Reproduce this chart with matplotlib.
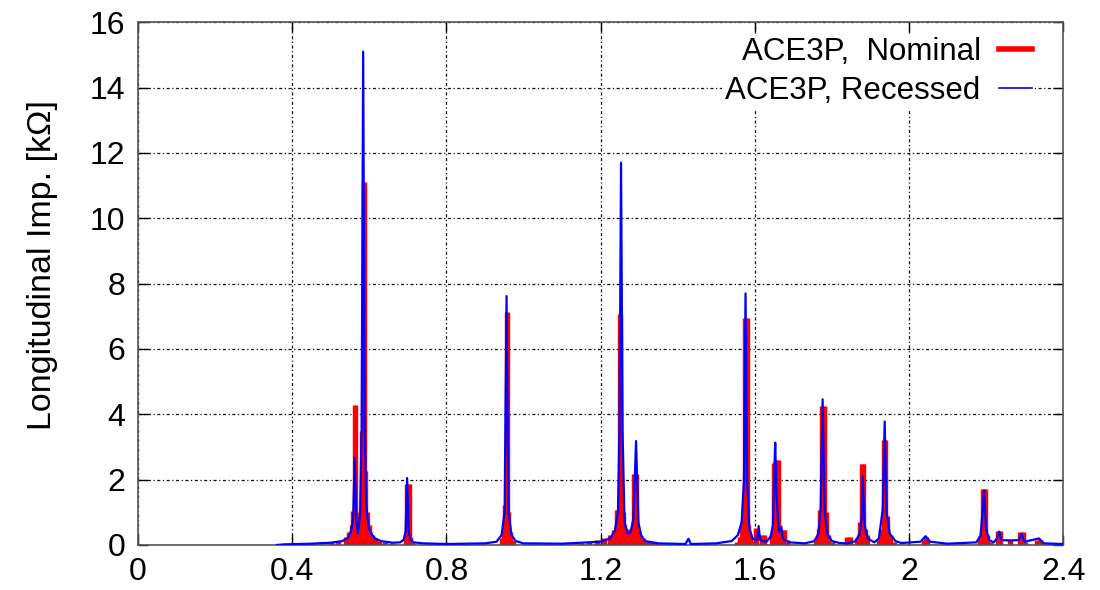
import matplotlib
matplotlib.use("Agg")
import matplotlib.pyplot as plt
from matplotlib.lines import Line2D

plt.rcParams['font.family'] = ['Liberation Sans', 'DejaVu Sans']

# nominal geometry, sampled impedance (drawn as impulses)
nominal_freq = [0.40, 0.45, 0.50, 0.52, 0.54, 0.548, 0.554, 0.558, 0.563, 0.567, 0.571, 0.575,
                0.580, 0.585, 0.590, 0.594, 0.598, 0.603, 0.608, 0.615, 0.625, 0.64, 0.66,
                0.694, 0.698, 0.702, 0.706, 0.712,
                0.945, 0.950, 0.953, 0.957, 0.961, 0.965, 0.972,
                1.13, 1.15, 1.17, 1.19, 1.21, 1.225, 1.235, 1.242, 1.246, 1.251, 1.254, 1.258, 1.262,
                1.268, 1.275, 1.282, 1.287, 1.291, 1.296, 1.302, 1.31, 1.32, 1.33, 1.345,
                1.555, 1.562, 1.567, 1.571, 1.575, 1.579, 1.583, 1.588, 1.595,
                1.603, 1.618, 1.625,
                1.644, 1.649, 1.654, 1.659, 1.664, 1.672, 1.677, 1.684,
                1.760, 1.766, 1.770, 1.774, 1.779, 1.784, 1.79, 1.80,
                1.840, 1.846,
                1.866, 1.872, 1.877, 1.882, 1.887, 1.892,
                1.922, 1.928, 1.934, 1.939, 1.944, 1.95, 1.96,
                2.038, 2.043, 2.048,
                2.185, 2.190, 2.193, 2.198, 2.203, 2.21,
                2.230, 2.236, 2.263, 2.288, 2.295, 2.30, 2.333, 2.34]
nominal_imp = [0.02, 0.04, 0.08, 0.12, 0.25, 0.4, 0.6, 1.05, 4.28, 0.9, 0.6, 1.0,
               3.5, 11.1, 2.25, 1.0, 0.6, 0.4, 0.3, 0.2, 0.12, 0.08, 0.05,
               0.25, 1.87, 1.87, 0.25, 0.1,
               0.2, 0.5, 1.23, 7.13, 1.0, 0.4, 0.15,
               0.04, 0.06, 0.1, 0.15, 0.22, 0.3, 0.45, 1.08, 1.08, 7.07, 1.0, 1.0, 0.6,
               0.5, 0.4, 0.45, 2.18, 2.18, 0.45, 0.3, 0.2, 0.12, 0.08, 0.05,
               0.1, 0.25, 0.6, 1.29, 6.96, 6.96, 0.6, 0.25, 0.12,
               0.52, 0.3, 0.3,
               0.35, 2.5, 2.61, 2.61, 0.6, 0.47, 0.47, 0.15,
               0.2, 0.5, 1.06, 4.26, 4.26, 1.0, 0.3, 0.1,
               0.25, 0.25,
               0.2, 0.7, 2.47, 2.47, 0.5, 0.3,
               0.15, 0.5, 3.22, 3.22, 0.9, 0.3, 0.1,
               0.15, 0.25, 0.15,
               0.2, 0.5, 1.72, 1.72, 0.3, 0.1,
               0.43, 0.43, 0.14, 0.40, 0.40, 0.1, 0.15, 0.15]

# recessed geometry, finer frequency sweep
recessed_freq = [0.36, 0.38, 0.45, 0.50, 0.53, 0.545, 0.553, 0.558, 0.562, 0.566, 0.570, 0.576,
                 0.580, 0.584, 0.588, 0.592, 0.598, 0.605, 0.615, 0.63, 0.66, 0.68, 0.689,
                 0.694, 0.698, 0.702, 0.707, 0.715, 0.74, 0.80, 0.90, 0.93, 0.943, 0.951,
                 0.956, 0.961, 0.969, 0.98, 1.0, 1.1, 1.2, 1.225, 1.237, 1.245, 1.249,
                 1.253, 1.257, 1.262, 1.27, 1.278, 1.285, 1.292, 1.298, 1.305, 1.315,
                 1.35, 1.42, 1.428, 1.434, 1.5, 1.54, 1.556, 1.566, 1.572, 1.576, 1.580,
                 1.586, 1.595, 1.606, 1.610, 1.614, 1.63, 1.641, 1.647, 1.650, 1.653,
                 1.656, 1.662, 1.669, 1.672, 1.69, 1.73, 1.755, 1.765, 1.771, 1.776,
                 1.781, 1.788, 1.80, 1.82, 1.84, 1.862, 1.872, 1.877, 1.880, 1.885,
                 1.893, 1.91, 1.922, 1.932, 1.937, 1.942, 1.95, 1.965, 1.98, 2.03,
                 2.043, 2.055, 2.1, 2.175, 2.186, 2.19, 2.195, 2.2, 2.208, 2.22, 2.228,
                 2.234, 2.24, 2.263, 2.285, 2.292, 2.30, 2.337, 2.35, 2.4]
recessed_imp = [0.0, 0.02, 0.04, 0.07, 0.12, 0.22, 0.45, 0.8, 2.67, 0.8, 0.35, 0.9,
                3.5, 15.1, 3.6, 1.2, 0.55, 0.33, 0.2, 0.12, 0.07, 0.08, 0.16,
                0.4, 2.05, 0.4, 0.16, 0.08, 0.05, 0.03, 0.05, 0.1, 0.3, 1.0,
                7.62, 1.0, 0.3, 0.12, 0.05, 0.04, 0.1, 0.2, 0.45, 1.0, 3.5,
                11.7, 3.5, 0.7, 0.35, 0.4, 0.8, 3.18, 0.7, 0.3, 0.12,
                0.05, 0.03, 0.19, 0.03, 0.05, 0.12, 0.3, 0.7, 2.0, 7.7, 2.0,
                0.5, 0.18, 0.15, 0.58, 0.15, 0.1, 0.25, 0.6, 2.0, 3.13,
                1.6, 0.4, 0.55, 0.2, 0.08, 0.05, 0.12, 0.35, 1.14, 4.46,
                1.1, 0.35, 0.12, 0.06, 0.05, 0.12, 0.35, 0.8, 2.11, 0.6,
                0.2, 0.08, 0.2, 1.1, 3.78, 1.0, 0.35, 0.12, 0.06, 0.1,
                0.27, 0.1, 0.04, 0.08, 0.3, 0.9, 1.67, 0.5, 0.15, 0.08, 0.2,
                0.41, 0.15, 0.14, 0.15, 0.33, 0.1, 0.2, 0.05, 0.03]

xticks = [0, 0.4, 0.8, 1.2, 1.6, 2, 2.4]
yticks = [0, 2, 4, 6, 8, 10, 12, 14, 16]

fig = plt.figure(figsize=(11, 5.9), dpi=100)
ax = fig.add_axes([0.1255, 0.0763, 0.841, 0.886])

ax.vlines(nominal_freq, 0, nominal_imp, colors='#ff0000', linewidth=3.9, capstyle='butt', zorder=2)
ax.plot(recessed_freq, recessed_imp, color='#0000ff', linewidth=1.6, zorder=3)

ax.set_xlim(0, 2.4)
ax.set_ylim(0, 16)
ax.set_xticks(xticks)
ax.set_xticklabels(['0', '0.4', '0.8', '1.2', '1.6', '2', '2.4'])
ax.set_yticks(yticks)
ax.tick_params(direction='in', length=7, width=1, top=True, right=True,
               labelsize=23, pad=9)
ax.grid(True, color='#111111', linewidth=0.9, linestyle=(0, (2.5, 2, 1, 2)))
ax.set_axisbelow(True)
for s in ax.spines.values():
    s.set_color('#555555')
    s.set_linewidth(1.2)

ax.set_ylabel('Longitudinal Imp. [k\u03a9]', fontsize=24.5)
ax.yaxis.set_label_coords(-0.087, 0.535)

handles = [Line2D([], [], color='#ff0000', linewidth=4),
           Line2D([], [], color='#0000ff', linewidth=1.2)]
leg = ax.legend(handles, ['ACE3P,  Nominal', 'ACE3P, Recessed'], loc='upper right',
                bbox_to_anchor=(0.97, 0.978), fontsize=22.5, markerfirst=False,
                handlelength=1.05, handletextpad=0.6, labelspacing=0.28,
                borderpad=0.1, borderaxespad=0, frameon=True, fancybox=False)
leg.get_frame().set_facecolor('white')
leg.get_frame().set_edgecolor('none')
leg.get_frame().set_alpha(1)

fig.savefig('out.png', dpi=100)
